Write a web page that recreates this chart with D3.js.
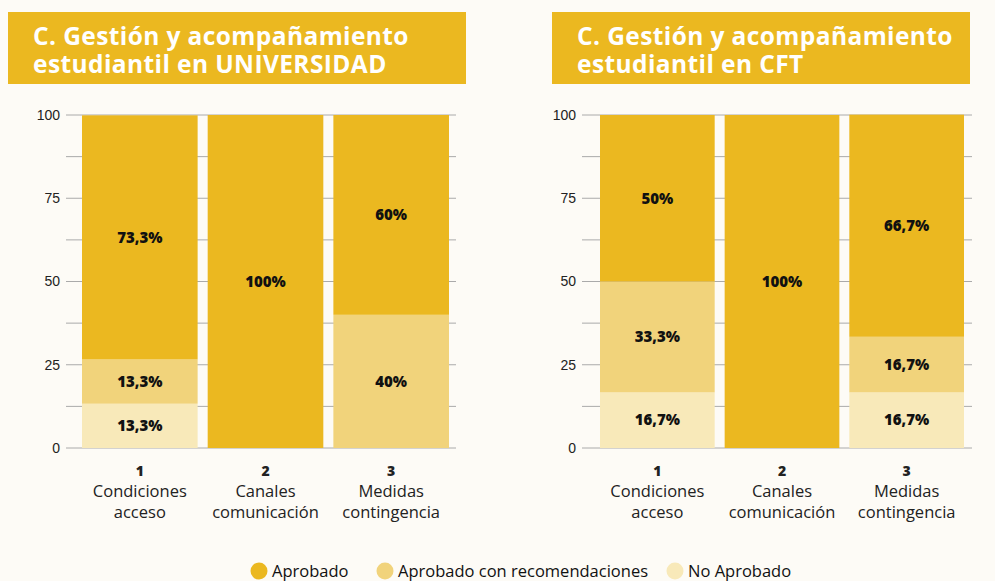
<!DOCTYPE html>
<html>
<head>
<meta charset="utf-8">
<script src="https://cdn.jsdelivr.net/npm/d3@7"></script>
<style>
  body { margin: 0; background: #fdfbf6; }
  svg { display: block; font-family: "Open Sans", "Noto Sans", sans-serif; }
</style>
</head>
<body>
<svg id="chart" width="995" height="581"></svg>
<script>
// categorías y series
var numeros = ["1", "2", "3"];
var categorias = [["Condiciones", "acceso"], ["Canales", "comunicación"], ["Medidas", "contingencia"]];
var series = ["No Aprobado", "Aprobado con recomendaciones", "Aprobado"];
var ticks_y = [0, 25, 50, 75, 100];
var lineas_y = [0, 12.5, 25, 37.5, 50, 62.5, 75, 87.5, 100];

// valores UNIVERSIDAD (por categoría)
var uni_no = [13.3, 0, 0];
var uni_rec = [13.3, 0, 40];
var uni_si = [73.3, 100, 60];
var uni_etq_no = ["13,3%", "", ""];
var uni_etq_rec = ["13,3%", "", "40%"];
var uni_etq_si = ["73,3%", "100%", "60%"];

// valores CFT
var cft_no = [16.7, 0, 16.7];
var cft_rec = [33.3, 0, 16.7];
var cft_si = [50, 100, 66.7];
var cft_etq_no = ["16,7%", "", "16,7%"];
var cft_etq_rec = ["33,3%", "", "16,7%"];
var cft_etq_si = ["50%", "100%", "66,7%"];

var colores = {"Aprobado": "#ebb820", "Aprobado con recomendaciones": "#f1d37b", "No Aprobado": "#f8e9b9"};

var svg = d3.select("#chart");

function panel(props) {
  var g = svg.append("g");

  // caja del título
  g.append("rect")
    .attr("x", props.caja[0]).attr("y", 12)
    .attr("width", props.caja[1] - props.caja[0]).attr("height", 72)
    .attr("fill", "#ebb820");
  g.selectAll(".titulo").data(props.titulo).enter().append("text")
    .attr("class", "titulo")
    .attr("x", props.caja[0] + 25)
    .attr("y", function(d, i) { return 45 + i * 28; })
    .attr("fill", "white")
    .style("font-size", "24.5px")
    .style("font-weight", "700")
    .style("letter-spacing", "0.4px")
    .text(function(d) { return d; });

  var y = d3.scaleLinear().domain([0, 100]).range([448, 115]);
  var x = d3.scaleBand().domain(numeros).range(props.barras).paddingInner(0.08).paddingOuter(0);

  // líneas de la grilla
  g.selectAll(".grid").data(lineas_y).enter().append("line")
    .attr("x1", props.eje[0]).attr("x2", props.eje[1])
    .attr("y1", function(d) { return y(d); }).attr("y2", function(d) { return y(d); })
    .attr("stroke", "#aaaaaa").attr("stroke-width", 1);

  // eje Y
  var yAxis = d3.axisLeft(y).tickValues(ticks_y).tickSize(0).tickPadding(6);
  var yg = g.append("g").attr("transform", "translate(" + props.eje[0] + ",0)").call(yAxis);
  yg.select(".domain").remove();
  yg.selectAll("text").style("font-size", "14px").attr("fill", "#222");

  // barras apiladas
  var filas = numeros.map(function(n, i) {
    return {n: n, "No Aprobado": props.no[i], "Aprobado con recomendaciones": props.rec[i], "Aprobado": props.si[i],
            etq: {"No Aprobado": props.etq_no[i], "Aprobado con recomendaciones": props.etq_rec[i], "Aprobado": props.etq_si[i]}};
  });
  var pila = d3.stack().keys(series)(filas);

  var capas = g.selectAll(".capa").data(pila).enter().append("g")
    .attr("fill", function(d) { return colores[d.key]; });
  capas.selectAll("rect").data(function(d) { return d; }).enter().append("rect")
    .attr("x", function(d) { return x(d.data.n); })
    .attr("y", function(d) { return y(d[1]); })
    .attr("width", x.bandwidth())
    .attr("height", function(d) { return y(d[0]) - y(d[1]); });

  // etiquetas de porcentaje
  pila.forEach(function(capa) {
    g.selectAll(".etq-" + capa.index).data(capa).enter().append("text")
      .attr("x", function(d) { return x(d.data.n) + x.bandwidth() / 2; })
      .attr("y", function(d) { return y((d[0] + d[1]) / 2); })
      .attr("dy", "0.35em")
      .attr("text-anchor", "middle")
      .style("font-size", "15px")
      .style("font-weight", "800")
      .attr("fill", "#111")
      .text(function(d) { return d.data.etq[capa.key]; });
  });

  // eje X
  var xg = g.append("g");
  var cat = xg.selectAll(".cat").data(numeros).enter().append("text")
    .attr("x", function(d) { return x(d) + x.bandwidth() / 2; })
    .attr("text-anchor", "middle")
    .attr("fill", "#222");
  cat.append("tspan")
    .attr("x", function(d) { return x(d) + x.bandwidth() / 2; })
    .attr("y", 476)
    .style("font-size", "14px").style("font-weight", "800")
    .text(function(d) { return d; });
  cat.append("tspan")
    .attr("x", function(d) { return x(d) + x.bandwidth() / 2; })
    .attr("y", 497)
    .style("font-size", "16.5px")
    .text(function(d, i) { return categorias[i][0]; });
  cat.append("tspan")
    .attr("x", function(d) { return x(d) + x.bandwidth() / 2; })
    .attr("y", 518)
    .style("font-size", "16.5px")
    .text(function(d, i) { return categorias[i][1]; });
}

panel({titulo: ["C. Gestión y acompañamiento", "estudiantil en UNIVERSIDAD"], caja: [8, 466],
  eje: [66, 456], barras: [82, 449],
  no: uni_no, rec: uni_rec, si: uni_si, etq_no: uni_etq_no, etq_rec: uni_etq_rec, etq_si: uni_etq_si});
panel({titulo: ["C. Gestión y acompañamiento", "estudiantil en CFT"], caja: [552, 970],
  eje: [582, 972], barras: [600, 964],
  no: cft_no, rec: cft_rec, si: cft_si, etq_no: cft_etq_no, etq_rec: cft_etq_rec, etq_si: cft_etq_si});

// leyenda
var leyenda_x = [259, 385, 675];
var ley = svg.append("g").selectAll("g").data(["Aprobado", "Aprobado con recomendaciones", "No Aprobado"]).enter().append("g")
  .attr("transform", function(d, i) { return "translate(" + leyenda_x[i] + ",571)"; });
ley.append("circle").attr("r", 8.5).attr("fill", function(d) { return colores[d]; });
ley.append("text").attr("x", 13).attr("dy", "0.35em")
  .style("font-size", "16.5px").attr("fill", "#111")
  .text(function(d) { return d; });
</script>
</body>
</html>
